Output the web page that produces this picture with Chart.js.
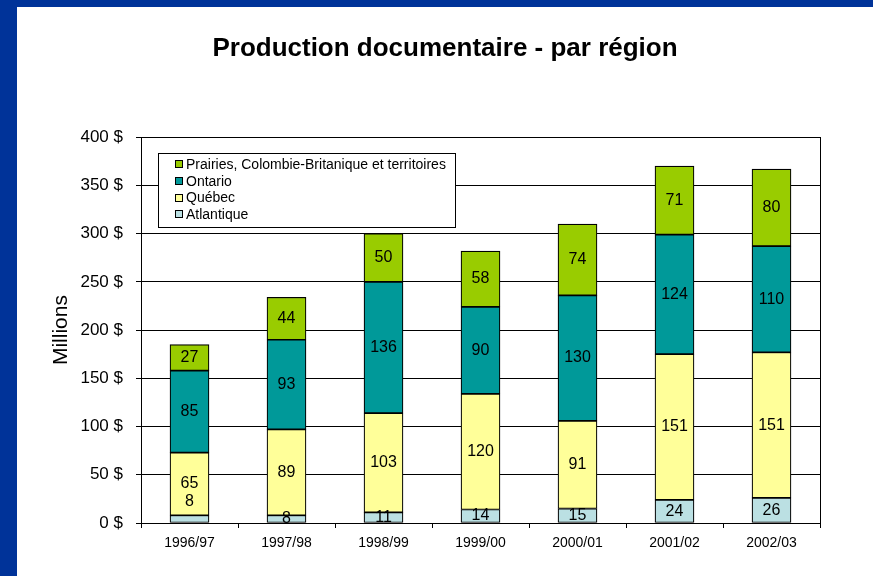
<!DOCTYPE html>
<html>
<head>
<meta charset="utf-8">
<script src="https://cdn.jsdelivr.net/npm/chart.js@4.4.1/dist/chart.umd.min.js"></script>
<style>
  html, body { margin: 0; padding: 0; background: #003399; overflow: hidden; }
  #frame { position: absolute; left: 17px; top: 7px; width: 856px; height: 569px; background: #ffffff; }
</style>
</head>
<body>
<div id="frame"><canvas id="docChart" width="856" height="569"></canvas></div>
<script>
// ====================================================================
// DATA
// ====================================================================

const seasons = ['1996/97', '1997/98', '1998/99', '1999/00', '2000/01', '2001/02', '2002/03'];
const atlantique = [8, 8, 11, 14, 15, 24, 26];
const quebec = [65, 89, 103, 120, 91, 151, 151];
const ontario = [85, 93, 136, 90, 130, 124, 110];
const prairies = [27, 44, 50, 58, 74, 71, 80];
const yMax = 400;
const yStep = 50;

const FONT = '"Liberation Sans", Arial, sans-serif';

// ====================================================================
// PLUGINS
// ====================================================================

// values written in the middle of each segment, clipped to the plot
const segmentLabels = {
  id: 'segmentLabels',
  afterDatasetsDraw(chart) {
    const { ctx, chartArea } = chart;
    ctx.save();
    ctx.beginPath();
    ctx.rect(chartArea.left, chartArea.top, chartArea.right - chartArea.left, chartArea.bottom - chartArea.top);
    ctx.clip();
    ctx.font = '16px ' + FONT;
    ctx.fillStyle = '#000';
    ctx.textAlign = 'center';
    ctx.textBaseline = 'middle';
    chart.data.datasets.forEach((ds, di) => {
      const meta = chart.getDatasetMeta(di);
      meta.data.forEach((bar, i) => {
        let y = (bar.y + bar.base) / 2;
        // the first Atlantique label was pushed up into the Québec block
        if (di === 0 && i === 0) y -= 17;
        ctx.fillText(String(ds.data[i]), bar.x, y);
      });
    });
    ctx.restore();
  }
};

// closes the plot frame and draws the boxed legend inside it
const plotFrame = {
  id: 'plotFrame',
  afterDraw(chart) {
    const { ctx, chartArea } = chart;
    ctx.save();
    ctx.strokeStyle = '#000';
    ctx.lineWidth = 1;
    ctx.strokeRect(Math.round(chartArea.left) + 0.5, Math.round(chartArea.top) + 0.5,
      Math.round(chartArea.right - chartArea.left), Math.round(chartArea.bottom - chartArea.top));

    const items = chart.data.datasets.slice().reverse();
    ctx.font = '14px ' + FONT;
    const textW = Math.max(...items.map(ds => ctx.measureText(ds.label).width));
    const boxX = Math.round(chartArea.left) + 17;
    const boxY = Math.round(chartArea.top) + 16;
    const rowH = 16.8;
    const boxW = Math.round(28 + textW + 9);
    const boxH = 74;

    ctx.fillStyle = '#fff';
    ctx.fillRect(boxX, boxY, boxW, boxH);
    ctx.strokeRect(boxX + 0.5, boxY + 0.5, boxW, boxH);

    ctx.textAlign = 'left';
    ctx.textBaseline = 'middle';
    items.forEach((ds, k) => {
      const cy = boxY + 11 + k * rowH;
      ctx.fillStyle = ds.backgroundColor;
      ctx.fillRect(boxX + 17, Math.round(cy - 4), 7, 7);
      ctx.strokeRect(boxX + 17.5, Math.round(cy - 4) + 0.5, 7, 7);
      ctx.fillStyle = '#000';
      ctx.fillText(ds.label, boxX + 28, cy + 1);
    });
    ctx.restore();
  }
};

// ====================================================================
// CHART
// ====================================================================

function seriesDataset(label, data, color) {
  return {
    label: label,
    data: data,
    backgroundColor: color,
    borderColor: '#000',
    borderWidth: 1.2,
    borderSkipped: false,
    barThickness: 39
  };
}

new Chart(document.getElementById('docChart').getContext('2d'), {
  type: 'bar',
  data: {
    labels: seasons,
    datasets: [
      seriesDataset('Atlantique', atlantique, '#BBE0E3'),
      seriesDataset('Québec', quebec, '#FFFF99'),
      seriesDataset('Ontario', ontario, '#009999'),
      seriesDataset('Prairies, Colombie-Britanique et territoires', prairies, '#99CC00')
    ]
  },
  options: {
    responsive: false,
    animation: false,
    devicePixelRatio: 1,
    layout: { padding: 0 },
    plugins: {
      legend: { display: false },
      tooltip: { enabled: false },
      title: {
        display: true,
        text: 'Production documentaire - par région',
        color: '#000',
        font: { family: FONT, size: 26, weight: 'bold' },
        padding: { top: 26, bottom: 73 }
      }
    },
    scales: {
      x: {
        stacked: true,
        offset: true,
        grid: { drawOnChartArea: false, drawTicks: true, tickLength: 5, color: '#000' },
        border: { color: '#000', width: 1 },
        ticks: { color: '#000', font: { family: FONT, size: 14 }, padding: 7, maxRotation: 0 },
        afterFit: scale => { scale.height = 53; }
      },
      y: {
        stacked: true,
        min: 0,
        max: yMax,
        grid: { color: '#000', lineWidth: 1, tickLength: 5 },
        border: { color: '#000', width: 1 },
        ticks: {
          stepSize: yStep,
          color: '#000',
          font: { family: FONT, size: 17 },
          padding: 13,
          callback: value => value + ' $'
        },
        title: {
          display: true,
          text: 'Millions',
          color: '#000',
          font: { family: FONT, size: 21 },
          padding: { top: 32, bottom: 0 }
        },
        afterFit: scale => { scale.width = 124; }
      },
      // empty right-hand margin so the title stays centred on the whole frame
      yRight: {
        position: 'right',
        display: true,
        grid: { display: false },
        border: { display: false },
        ticks: { display: false },
        afterFit: scale => { scale.width = 53; }
      }
    }
  },
  plugins: [segmentLabels, plotFrame]
});
</script>
</body>
</html>
